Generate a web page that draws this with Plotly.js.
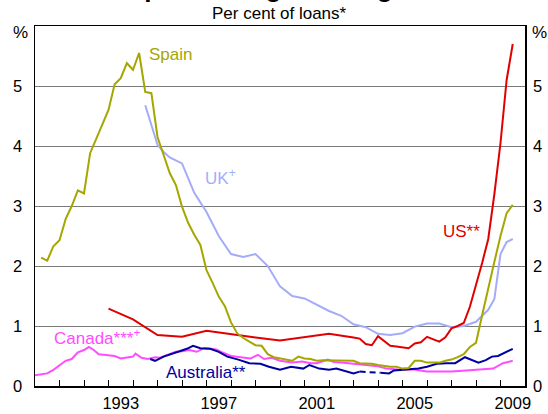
<!DOCTYPE html>
<html>
<head>
<meta charset="utf-8">
<script src="https://cdn.plot.ly/plotly-3.0.1.min.js"></script>
<style>html,body{margin:0;padding:0;background:#fff;}#chart{width:548px;height:414px;}</style>
</head>
<body>
<div id="chart"></div>
<script>
// ---- data ----
var spainX = [1990.25,1990.5,1990.75,1991.0,1991.25,1991.5,1991.75,1992.0,1992.25,1992.5,1992.75,1993.0,1993.25,1993.5,1993.75,1994.0,1994.25,1994.5,1994.75,1995.0,1995.25,1995.5,1995.75,1996.0,1996.25,1996.5,1996.75,1997.0,1997.25,1997.5,1997.75,1998.0,1998.25,1998.5,1998.75,1999.0,1999.25,1999.5,1999.75,2000.0,2000.25,2000.5,2000.75,2001.0,2001.25,2001.5,2001.75,2002.0,2002.25,2002.5,2002.75,2003.0,2003.25,2003.5,2003.75,2004.0,2004.25,2004.5,2004.75,2005.0,2005.25,2005.5,2005.75,2006.0,2006.25,2006.5,2006.75,2007.0,2007.25,2007.5,2007.75,2008.0,2008.25,2008.5,2008.75,2009.0,2009.25,2009.5];
var spainY = [2.14,2.09,2.33,2.43,2.78,3.0,3.26,3.21,3.88,4.12,4.34,4.6,5.03,5.13,5.38,5.27,5.55,4.9,4.88,4.15,3.85,3.55,3.35,2.99,2.72,2.52,2.35,1.93,1.72,1.49,1.33,1.06,0.88,0.8,0.74,0.68,0.67,0.53,0.48,0.46,0.44,0.42,0.49,0.46,0.45,0.42,0.43,0.43,0.43,0.43,0.43,0.42,0.38,0.38,0.37,0.35,0.33,0.32,0.32,0.29,0.30,0.42,0.42,0.39,0.39,0.39,0.42,0.44,0.48,0.53,0.65,0.72,1.18,1.6,2.07,2.5,2.88,3.02];

var ukX = [1994.5,1994.75,1995.0,1995.25,1995.5,1996.0,1996.5,1997.0,1997.5,1998.0,1998.5,1999.0,1999.5,2000.0,2000.5,2001.0,2001.5,2002.0,2002.5,2003.0,2003.5,2004.0,2004.5,2005.0,2005.5,2006.0,2006.5,2007.0,2007.5,2008.0,2008.5,2008.75,2009.0,2009.25,2009.5];
var ukY = [4.68,4.33,4.02,3.9,3.81,3.71,3.22,2.9,2.5,2.2,2.15,2.2,2.0,1.66,1.5,1.46,1.35,1.25,1.17,1.03,0.98,0.87,0.85,0.88,0.99,1.04,1.04,0.98,1.0,1.07,1.27,1.45,2.2,2.4,2.45];

var usX = [1993.0,1994.0,1995.0,1996.0,1997.0,1998.0,1999.0,2000.0,2001.0,2002.0,2003.0,2003.25,2003.5,2003.75,2004.0,2004.25,2004.5,2004.75,2005.0,2005.25,2005.5,2005.75,2006.0,2006.25,2006.5,2006.75,2007.0,2007.25,2007.5,2007.75,2008.0,2008.25,2008.5,2008.75,2009.0,2009.25,2009.5];
var usY = [1.29,1.11,0.85,0.82,0.92,0.86,0.81,0.76,0.82,0.87,0.81,0.79,0.70,0.68,0.83,0.75,0.67,0.66,0.64,0.63,0.71,0.73,0.82,0.78,0.74,0.81,0.96,1.0,1.05,1.32,1.68,2.05,2.45,3.2,4.05,5.1,5.7];

var canadaX = [1990.0,1990.25,1990.5,1990.75,1991.0,1991.25,1991.5,1991.75,1992.0,1992.2,1992.4,1992.6,1992.8,1993.0,1993.25,1993.5,1993.75,1994.0,1994.1,1994.35,1994.6,1994.9,1995.1,1995.3,1995.5,1995.75,1996.0,1996.3,1996.6,1996.9,1997.15,1997.4,1997.6,1997.8,1998.0,1998.4,1998.8,1999.1,1999.35,1999.65,2000.0,2000.5,2000.9,2001.25,2001.5,2001.95,2002.2,2002.5,2003.0,2003.5,2004.0,2004.35,2004.9,2005.4,2006.0,2006.5,2007.0,2007.6,2008.2,2008.7,2009.1,2009.5];
var canadaY = [0.18,0.19,0.21,0.27,0.34,0.42,0.45,0.56,0.6,0.65,0.6,0.53,0.52,0.51,0.5,0.46,0.48,0.49,0.54,0.47,0.45,0.48,0.47,0.5,0.54,0.57,0.58,0.6,0.57,0.63,0.62,0.61,0.57,0.53,0.5,0.48,0.46,0.52,0.45,0.47,0.42,0.39,0.41,0.38,0.38,0.44,0.4,0.39,0.37,0.35,0.33,0.29,0.27,0.28,0.24,0.24,0.24,0.26,0.27,0.29,0.38,0.42];

var ausX = [1994.7,1994.9,1995.25,1995.5,1995.9,1996.2,1996.45,1996.75,1997.15,1997.5,1997.85,1998.3,1998.75,1999.2,1999.55,2000.0,2000.45,2000.95,2001.2,2001.6,2002.0,2002.3,2002.7,2003.0,2003.25];
var ausY = [0.45,0.42,0.49,0.52,0.58,0.62,0.67,0.63,0.62,0.57,0.49,0.44,0.38,0.37,0.32,0.27,0.32,0.29,0.35,0.29,0.27,0.29,0.24,0.21,0.24];
var ausGapX = [2003.25,2004.1];
var ausGapY = [0.24,0.22];
var ausX2 = [2004.1,2004.45,2004.65,2005.0,2005.3,2005.65,2006.0,2006.4,2006.8,2007.15,2007.55,2007.8,2008.1,2008.4,2008.65,2008.9,2009.2,2009.5];
var ausY2 = [0.22,0.21,0.26,0.27,0.29,0.29,0.32,0.37,0.38,0.38,0.48,0.44,0.39,0.43,0.49,0.5,0.56,0.62];

var yTicks = [0,1,2,3,4,5];
var yearTicks = [1991,1992,1993,1994,1995,1996,1997,1998,1999,2000,2001,2002,2003,2004,2005,2006,2007,2008,2009];
var yearLabelPos = [1993.5,1997.5,2001.5,2005.5,2009.5];
var yearLabels = ['1993','1997','2001','2005','2009'];

// ---- styles ----
var cSpain = '#A6A600', cUK = '#A4ACF8', cUS = '#E00000', cCan = '#FF4CFF', cAus = '#0000A0';
var font = 'Arial, "Liberation Sans", sans-serif';
var lw = 2;

var traces = [
  {x: ukX, y: ukY, mode: 'lines', line: {color: cUK, width: lw}},
  {x: canadaX, y: canadaY, mode: 'lines', line: {color: cCan, width: lw}},
  {x: ausX, y: ausY, mode: 'lines', line: {color: cAus, width: lw}},
  {x: ausGapX, y: ausGapY, mode: 'lines', line: {color: cAus, width: lw, dash: '6px,4px'}},
  {x: ausX2, y: ausY2, mode: 'lines', line: {color: cAus, width: lw}},
  {x: usX, y: usY, mode: 'lines', line: {color: cUS, width: lw}},
  {x: spainX, y: spainY, mode: 'lines', line: {color: cSpain, width: lw}, yaxis: 'y2'}
];
traces.forEach(function(t){ t.showlegend = false; t.hoverinfo = 'skip'; });

var tickFont = {family: font, size: 16.5, color: '#000'};
var labFont = 17;

var layout = {
  width: 548, height: 414,
  margin: {l: 35, r: 23, t: 26, b: 28, pad: 0},
  paper_bgcolor: '#fff', plot_bgcolor: '#fff',
  showlegend: false,
  xaxis: {
    range: [1990, 2010], tickmode: 'array', tickvals: yearLabelPos, ticktext: yearLabels,
    ticks: '', showgrid: false, zeroline: false,
    showline: true, mirror: true, linecolor: '#000', linewidth: 1.5,
    tickfont: tickFont, ticklabelstandoff: 2,
    minor: {tickmode: 'array', tickvals: yearTicks, ticks: 'inside', ticklen: 6, tickcolor: '#000', tickwidth: 1, showgrid: false}
  },
  yaxis: {
    range: [0, 6], tickmode: 'array', tickvals: yTicks, ticks: '',
    showgrid: true, gridcolor: '#7a7a7a', gridwidth: 1, zeroline: false,
    showline: true, mirror: true, linecolor: '#000', linewidth: 1.5,
    tickfont: tickFont, ticklabelstandoff: 8
  },
  yaxis2: {
    range: [0, 6], overlaying: 'y', side: 'right', tickmode: 'array', tickvals: yTicks, ticks: '',
    showgrid: false, zeroline: false, showline: false,
    tickfont: tickFont, ticklabelstandoff: 7
  },
  annotations: [
    {text: '<b>Non-performing Housing Loans</b>', xref: 'paper', yref: 'paper', x: 0.5, y: 1.0597, xanchor: 'center', yanchor: 'bottom', showarrow: false, font: {family: font, size: 26, color: '#000'}},
    {text: 'Per cent of loans*', xref: 'paper', yref: 'paper', x: 0.498, y: 1.0361, xanchor: 'center', yanchor: 'middle', showarrow: false, font: {family: font, size: labFont, color: '#000'}},
    {text: '%', xref: 'paper', yref: 'paper', x: -0.0306, y: 0.9806, xanchor: 'center', yanchor: 'middle', showarrow: false, font: {family: font, size: labFont, color: '#000'}},
    {text: '%', xref: 'paper', yref: 'paper', x: 1.0296, y: 0.9806, xanchor: 'center', yanchor: 'middle', showarrow: false, font: {family: font, size: labFont, color: '#000'}},
    {text: 'Spain', x: 1994.57, y: 5.52, xanchor: 'left', yanchor: 'middle', showarrow: false, font: {family: font, size: labFont, color: cSpain}},
    {text: 'UK<sup>+</sup>', x: 1996.86, y: 3.48, xanchor: 'left', yanchor: 'middle', showarrow: false, font: {family: font, size: labFont, color: cUK}},
    {text: 'US**', x: 2006.57, y: 2.58, xanchor: 'left', yanchor: 'middle', showarrow: false, font: {family: font, size: labFont, color: cUS}},
    {text: 'Canada***<sup>+</sup>', x: 1990.69, y: 0.82, xanchor: 'left', yanchor: 'middle', showarrow: false, font: {family: font, size: labFont, color: cCan}},
    {text: 'Australia**', x: 1995.27, y: 0.23, xanchor: 'left', yanchor: 'middle', showarrow: false, font: {family: font, size: labFont, color: cAus}}
  ]
};

Plotly.newPlot('chart', traces, layout, {staticPlot: true, displayModeBar: false});
</script>
</body>
</html>
